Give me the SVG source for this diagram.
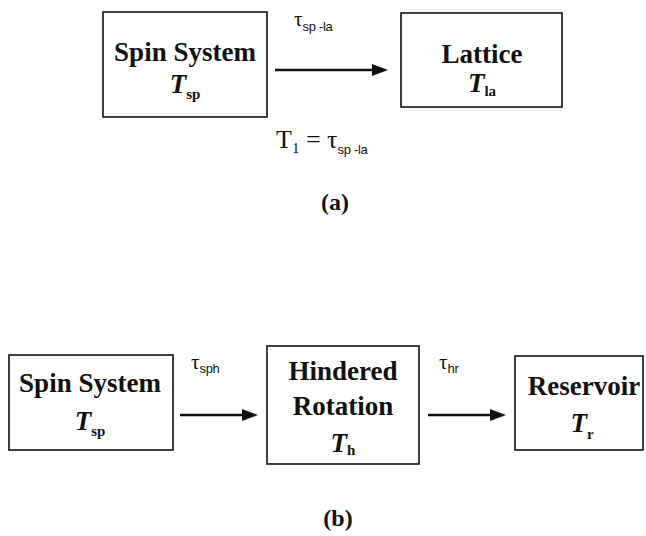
<svg xmlns="http://www.w3.org/2000/svg" width="646" height="536" viewBox="0 0 646 536">
<style>
.box{fill:#fff;stroke:#111;stroke-width:1.6}
.lbl{font-family:"Liberation Serif","Times New Roman",serif;font-weight:bold;font-size:27px;fill:#111;text-anchor:middle}
.it{font-style:italic}
.sub{font-size:15px;font-style:normal}
.tau{font-family:"Liberation Serif","Times New Roman",serif;font-size:21px;fill:#111}
.tsub{font-family:"Liberation Sans",Arial,sans-serif;font-size:13px;letter-spacing:-0.3px}
.cap{font-family:"Liberation Serif","Times New Roman",serif;font-weight:bold;font-size:24px;fill:#111;text-anchor:middle}
.conn{stroke:#111;stroke-width:2.6;fill:none}
</style>
<defs>
<marker id="ah" markerWidth="16" markerHeight="12" refX="0" refY="6" orient="auto" markerUnits="userSpaceOnUse">
<polygon points="0,0 16,6 0,12" fill="#111"/>
</marker>
</defs>
<rect width="646" height="536" fill="#fff"/>
<g id="connectors">
<line class="conn" x1="275" y1="70" x2="372" y2="70" marker-end="url(#ah)"/>
<line class="conn" x1="180" y1="415" x2="242" y2="415" marker-end="url(#ah)"/>
<line class="conn" x1="428" y1="415" x2="490" y2="415" marker-end="url(#ah)"/>
<text class="tau" x="294" y="26">τ<tspan class="tsub" dy="5">sp -la</tspan></text>
<text class="tau" x="191" y="369">τ<tspan class="tsub" dy="4">sph</tspan></text>
<text class="tau" x="439" y="369">τ<tspan class="tsub" dy="4">hr</tspan></text>
</g>
<g id="spin-a">
<rect class="box" x="103" y="12" width="164" height="105"/>
<text class="lbl" x="185" y="61">Spin System</text>
<text class="lbl" x="185" y="93"><tspan class="it">T</tspan><tspan class="sub" dy="6">sp</tspan></text>
</g>
<g id="lattice">
<rect class="box" x="401" y="13" width="161" height="94"/>
<text class="lbl" x="482" y="63">Lattice</text>
<text class="lbl" x="482" y="92"><tspan class="it">T</tspan><tspan class="sub" dy="4">la</tspan></text>
</g>
<g id="eq-a">
<text class="tau" x="276" y="148" style="font-size:26px">T<tspan font-size="15" dy="5">1</tspan><tspan dy="-5"> = τ</tspan><tspan class="tsub" font-size="15" dy="6">sp -la</tspan></text>
</g>
<text class="cap" x="335" y="210">(a)</text>
<g id="spin-b">
<rect class="box" x="9" y="355" width="164" height="95"/>
<text class="lbl" x="90" y="392">Spin System</text>
<text class="lbl" x="90" y="430"><tspan class="it">T</tspan><tspan class="sub" dy="6">sp</tspan></text>
</g>
<g id="hindered">
<rect class="box" x="267" y="346" width="152" height="118"/>
<text class="lbl" x="343" y="380">Hindered</text>
<text class="lbl" x="343" y="415">Rotation</text>
<text class="lbl" x="343" y="452"><tspan class="it">T</tspan><tspan class="sub" dy="3">h</tspan></text>
</g>
<g id="reservoir">
<rect class="box" x="515" y="356" width="128" height="94"/>
<text class="lbl" x="584" y="395">Reservoir</text>
<text class="lbl" x="582" y="432"><tspan class="it">T</tspan><tspan class="sub" dy="7">r</tspan></text>
</g>
<text class="cap" x="338" y="526">(b)</text>
</svg>
